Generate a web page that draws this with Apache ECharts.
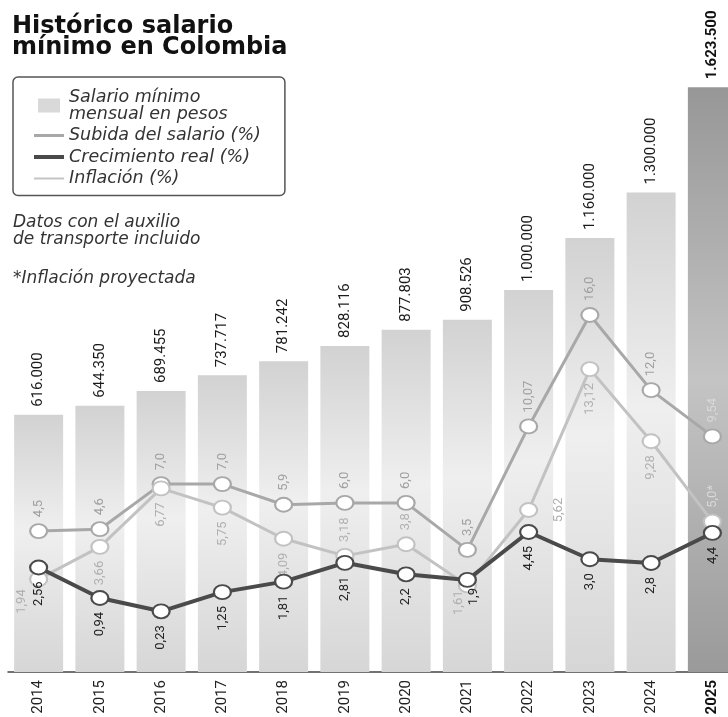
<!DOCTYPE html>
<html>
<head>
<meta charset="utf-8">
<title>Histórico salario mínimo en Colombia</title>
<script src="https://cdn.jsdelivr.net/npm/echarts@6/dist/echarts.min.js"></script>
<style>
html, body { margin: 0; padding: 0; background: #fff; }
#chart { width: 728px; height: 717px; }
</style>
</head>
<body>
<div id="chart"></div>
<script>
const years = ['2014', '2015', '2016', '2017', '2018', '2019', '2020', '2021', '2022', '2023', '2024', '2025'];
const salario = [616000, 644350, 689455, 737717, 781242, 828116, 877803, 908526, 1000000, 1160000, 1300000, 1623500];
const subida = [4.5, 4.6, 7.0, 7.0, 5.9, 6.0, 6.0, 3.5, 10.07, 16.0, 12.0, 9.54];
const crecimiento = [2.56, 0.94, 0.23, 1.25, 1.81, 2.81, 2.2, 1.9, 4.45, 3.0, 2.8, 4.4];
const inflacion = [1.94, 3.66, 6.77, 5.75, 4.09, 3.18, 3.8, 1.61, 5.62, 13.12, 9.28, 5.0];

const nameSalario = 'Salario mínimo\nmensual en pesos';
const nameSubida = 'Subida del salario (%)';
const nameCrec = 'Crecimiento real (%)';
const nameInf = 'Inflación (%)';

const narrow = 'Roboto, sans-serif';
const italicFont = '"DejaVu Sans", sans-serif';

// 616000 -> 616.000
function miles(v) {
    return String(v).replace(/\B(?=(\d{3})+(?!\d))/g, '.');
}
// 7 -> 7,0 ; 6.77 -> 6,77
function pct(v) {
    const one = Math.abs(v * 10 - Math.round(v * 10)) < 1e-9;
    return (one ? v.toFixed(1) : v.toFixed(2)).replace('.', ',');
}

const TOP = { position: 'top', align: 'left', verticalAlign: 'middle' };
const BOTTOM = { position: 'bottom', align: 'right', verticalAlign: 'middle' };

// label placement tweaks per point (layout only)
const tweaks = {
    inf: {
        0: { position: [-7, 18], align: 'right', verticalAlign: 'middle' },
        5: TOP,
        6: TOP,
        7: { position: [1, 13], align: 'right', verticalAlign: 'middle' },
        8: { position: 'right', align: 'center', verticalAlign: 'top', distance: 14 },
        11: Object.assign({ color: '#d8d8d8' }, TOP)
    },
    sub: {
        11: { color: '#d8d8d8' }
    },
    crec: {
        7: { position: [16, 16], align: 'right', verticalAlign: 'middle' }
    }
};

function lineData(values, key, suffixLast) {
    return values.map((v, i) => {
        const item = { value: v };
        const t = tweaks[key] && tweaks[key][i];
        if (t) item.label = Object.assign({}, t);
        if (suffixLast && i === values.length - 1) {
            item.label = Object.assign(item.label || {}, { formatter: p => pct(p.value) + '*' });
        }
        return item;
    });
}

const barGrad = new echarts.graphic.LinearGradient(0, 0, 0, 1, [
    { offset: 0, color: '#d2d2d2' },
    { offset: 0.45, color: '#efefef' },
    { offset: 1, color: '#d6d6d6' }
]);
const barGradDark = new echarts.graphic.LinearGradient(0, 0, 0, 1, [
    { offset: 0, color: '#979797' },
    { offset: 0.5, color: '#c4c4c4' },
    { offset: 1, color: '#9a9a9a' }
]);

function lineSeries(name, data, color, width, labelColor, labelDefault, z) {
    return {
        name: name,
        type: 'line',
        yAxisIndex: 1,
        data: data,
        z: z,
        symbol: 'circle',
        symbolSize: [17, 14],
        lineStyle: { color: color, width: width },
        itemStyle: { color: '#fff', borderColor: color, borderWidth: 2 },
        label: Object.assign({
            show: true,
            rotate: 90,
            distance: 6,
            fontFamily: narrow,
            fontSize: 13,
            color: labelColor,
            formatter: p => pct(p.value)
        }, labelDefault)
    };
}

const chart = echarts.init(document.getElementById('chart'));

const option = {
    animation: false,
    title: [
        {
            text: 'Histórico salario\nmínimo en Colombia',
            left: 12, top: 16, padding: 0,
            textStyle: { fontFamily: '"DejaVu Sans", sans-serif', fontWeight: 'bold', fontSize: 24, lineHeight: 21, color: '#111' }
        },
        {
            text: 'Datos con el auxilio\nde transporte incluido',
            left: 13, top: 214, padding: 0,
            textStyle: { fontFamily: italicFont, fontStyle: 'italic', fontWeight: 'normal', fontSize: 17, lineHeight: 17, color: '#333' }
        },
        {
            text: '*Inflación proyectada',
            left: 13, top: 270, padding: 0,
            textStyle: { fontFamily: italicFont, fontStyle: 'italic', fontWeight: 'normal', fontSize: 17, lineHeight: 17, color: '#333' }
        }
    ],
    legend: {
        orient: 'vertical',
        left: 13,
        top: 77,
        padding: [11, 24, 8, 21],
        borderColor: '#555',
        borderWidth: 1.5,
        borderRadius: 5,
        itemWidth: 30,
        itemHeight: 14,
        itemGap: 3.5,
        selectedMode: false,
        textStyle: { fontFamily: italicFont, fontStyle: 'italic', fontSize: 17.5, lineHeight: 17, color: '#333' },
        data: [
            { name: nameSalario, icon: 'path://M0,0H22V14H0Z', itemStyle: { color: '#d9d9d9', borderWidth: 0 } },
            { name: nameSubida, icon: 'path://M0,0H30V3H0Z', itemStyle: { color: '#a8a8a8', borderWidth: 0 } },
            { name: nameCrec, icon: 'path://M0,0H30V4H0Z', itemStyle: { color: '#4a4a4a', borderWidth: 0 } },
            { name: nameInf, icon: 'path://M0,0H30V2H0Z', itemStyle: { color: '#c4c4c4', borderWidth: 0 } }
        ]
    },
    grid: { left: 8, width: 735, top: 82, bottom: 45, outerBoundsMode: 'none' },
    xAxis: {
        type: 'category',
        data: years,
        axisLine: { onZero: false, lineStyle: { color: '#444', width: 1.5 } },
        axisTick: { show: false },
        axisLabel: {
            rotate: 90,
            margin: 8,
            fontFamily: narrow,
            fontSize: 15,
            color: '#222',
            formatter: v => v === '2025' ? '{b|' + v + '}' : v,
            rich: { b: { fontFamily: narrow, fontSize: 15, fontWeight: 'bold', color: '#111' } }
        }
    },
    yAxis: [
        { type: 'value', min: -175000, max: 1640000, startValue: -175000, show: false, splitLine: { show: false } },
        { type: 'value', min: -3, max: 28.4, show: false, splitLine: { show: false } }
    ],
    series: [
        {
            name: nameSalario,
            type: 'bar',
            yAxisIndex: 0,
            barWidth: 49,
            z: 1,
            data: salario.map((v, i) => i === salario.length - 1
                ? { value: v, itemStyle: { color: barGradDark }, label: { fontWeight: 'bold', color: '#111' } }
                : { value: v }),
            itemStyle: { color: barGrad },
            label: {
                show: true,
                position: 'top',
                rotate: 90,
                align: 'left',
                verticalAlign: 'middle',
                distance: 8,
                fontFamily: narrow,
                fontSize: 15,
                color: '#1a1a1a',
                formatter: p => miles(p.value)
            }
        },
        lineSeries(nameSubida, lineData(subida, 'sub'), '#a8a8a8', 3, '#a0a0a0', TOP, 3),
        lineSeries(nameInf, lineData(inflacion, 'inf', true), '#c2c2c2', 3, '#b0b0b0', BOTTOM, 4),
        lineSeries(nameCrec, lineData(crecimiento, 'crec'), '#4a4a4a', 4, '#222', BOTTOM, 5)
    ]
};

chart.setOption(option);
</script>
</body>
</html>
